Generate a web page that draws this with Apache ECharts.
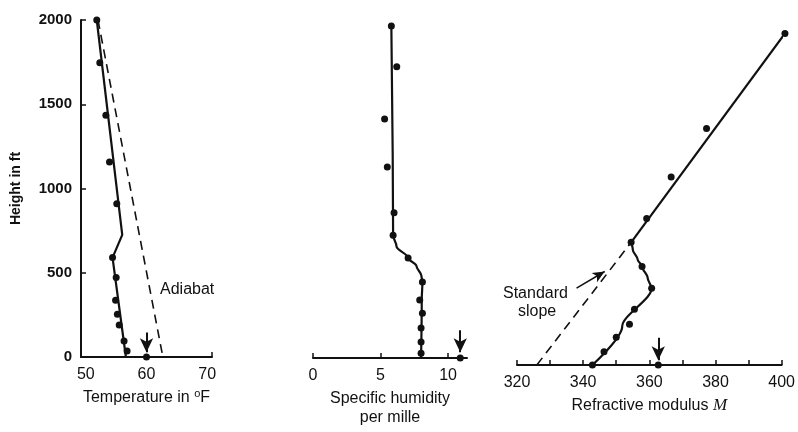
<!DOCTYPE html>
<html><head><meta charset="utf-8">
<script src="https://cdn.jsdelivr.net/npm/echarts@6/dist/echarts.min.js"></script>
<style>html,body{margin:0;padding:0;background:#fff}#c{width:798px;height:432px}</style>
</head><body><div id="c"></div>
<script>
// ---- data ----
const heightTicks = [0, 500, 1000, 1500, 2000];
const tempTicks = [50, 60, 70];
const humidTicks = [0, 5, 10];
const modTicks = [320, 340, 360, 380, 400];
const modMinorTicks = [320, 330, 340, 350, 360, 370, 380, 390, 400];

const tempPoints = [[51.8,2000],[52.3,1746],[53.3,1435],[53.9,1157],[55.1,909],[54.4,591],[55.0,472],[54.9,337],[55.2,254],[55.5,190],[56.3,95],[56.8,36],[60,0]];
const tempLine = [[51.8,2000],[56.0,725],[54.4,590],[56.6,0]];
const adiabat = [[52.0,2000],[62.7,0]];
const tempArrow = [[60,145],[60,28]];

const humidPoints = [[5.8,2000],[6.2,1755],[5.3,1440],[5.5,1150],[6.0,875],[5.93,740],[7.04,603],[8.1,458],[7.9,350],[8.1,270],[8.0,180],[8.0,97],[8.0,28],[10.9,0]];
const humidLine = [[5.8,2000],[5.93,740],[6.18,673],[7.04,603],[7.66,554],[8.03,494],[8.1,458],[8.05,350],[8.0,0]];
const humidArrow = [[10.9,167],[10.9,35]];

const modPoints = [[401,1968],[377.3,1403],[366.6,1115],[359.2,870],[354.5,728],[357.8,585],[360.7,455],[355.5,331],[354,242],[350,165],[346.3,79],[342.8,0],[362.7,0]];
const modUpperLine = [[401,1968],[354.5,728]];
const modLowerLine = [[354.5,728],[355.0,684],[356.5,625],[357.8,585],[359.5,516],[360.7,455],[351.8,228],[342.8,0]];
const standardSlope = [[326,0],[354,715]];
const modArrow = [[362.7,161],[362.7,28]];
const slopeArrow = [[338,456],[346.5,555]];

// ---- chart ----
const FONT = '"Liberation Sans", Arial, sans-serif';
const BLACK = '#111';
const chart = echarts.init(document.getElementById('c'), null, {renderer: 'canvas'});

function xAx(gridIndex, min, max, labels, ticks, nameText, nameGap, rich) {
  return {
    type: 'value', gridIndex, min, max, position: 'bottom',
    splitLine: {show: false},
    axisLine: {show: true, onZero: false, lineStyle: {color: BLACK, width: 2}},
    axisTick: {show: true, inside: true, length: 5, customValues: ticks, lineStyle: {color: BLACK, width: 1.5}},
    axisLabel: {show: true, customValues: labels, color: BLACK, fontFamily: FONT, fontSize: 16, margin: 10, formatter: v => String(v)},
    name: nameText, nameLocation: 'middle', nameGap,
    nameTextStyle: {color: BLACK, fontFamily: FONT, fontSize: 16, lineHeight: 19, rich: rich || {}}
  };
}
function yAx(gridIndex, show) {
  return {
    type: 'value', gridIndex, min: 0, max: 2000, show,
    splitLine: {show: false},
    axisLine: {show: show, lineStyle: {color: BLACK, width: 2}},
    axisTick: {show: show, inside: true, length: 5, customValues: [500,1000,1500,2000], lineStyle: {color: BLACK, width: 1.5}},
    axisLabel: {show: show, customValues: heightTicks, color: BLACK, fontFamily: FONT, fontSize: 15, fontWeight: 'bold', margin: 9, formatter: v => String(v)},
    name: show ? 'Height in ft' : '', nameLocation: 'middle', nameGap: 58, nameRotate: 90,
    nameTextStyle: {color: BLACK, fontFamily: FONT, fontSize: 14, fontWeight: 'bold'}
  };
}
function lineS(xi, data, opts) {
  return Object.assign({
    type: 'line', xAxisIndex: xi, yAxisIndex: xi, data, symbol: 'none', silent: true, clip: false,
    lineStyle: {color: BLACK, width: 2.2}, z: 2
  }, opts || {});
}
function dots(xi, data) {
  return {type: 'scatter', xAxisIndex: xi, yAxisIndex: xi, data, symbol: 'circle', symbolSize: 7, clip: false,
    itemStyle: {color: BLACK, opacity: 1}, z: 5, silent: true};
}
function arrow(xi, pts) {
  return {type: 'line', xAxisIndex: xi, yAxisIndex: xi, data: [], silent: true,
    markLine: {silent: true, symbol: ['none', 'arrow'], symbolSize: [10, 14],
      lineStyle: {color: BLACK, width: 2, type: 'solid'}, label: {show: false},
      data: [[{coord: pts[0]}, {coord: pts[1]}]]}};
}
const sup = {sup: {fontSize: 11, verticalAlign: 'top', color: BLACK, fontFamily: FONT, padding: [0,0,6,0]}};
const mRich = {m: {fontFamily: '"Liberation Serif", serif', fontStyle: 'italic', fontSize: 17, color: BLACK}};

chart.setOption({
  animation: false,
  backgroundColor: '#fff',
  grid: [
    {left: 81, top: 20, width: 131, height: 337},
    {left: 313, top: 26, width: 154, height: 337},
    {left: 517, top: 28, width: 266, height: 337}
  ],
  xAxis: [
    xAx(0, 49.2, 70.8, tempTicks, [70.8], 'Temperature in {sup|o}F', 31, sup),
    xAx(1, 0, 11.4, humidTicks, humidTicks, 'Specific humidity\nper mille', 31),
    xAx(2, 320, 400, modTicks, modMinorTicks, 'Refractive modulus {m|M}', 26, mRich)
  ],
  yAxis: [yAx(0, true), yAx(1, false), yAx(2, false)],
  series: [
    lineS(0, tempLine),
    lineS(0, adiabat, {lineStyle: {color: BLACK, width: 1.6, type: [9, 6]}}),
    dots(0, tempPoints),
    arrow(0, tempArrow),
    lineS(1, humidLine, {smooth: 0.35, smoothMonotone: 'y'}),
    dots(1, humidPoints),
    arrow(1, humidArrow),
    lineS(2, modUpperLine),
    lineS(2, modLowerLine, {smooth: 0.3, smoothMonotone: 'y'}),
    lineS(2, standardSlope, {lineStyle: {color: BLACK, width: 1.6, type: [9, 6]}}),
    dots(2, modPoints),
    arrow(2, modArrow),
    {type: 'line', xAxisIndex: 2, yAxisIndex: 2, data: [], silent: true,
      markLine: {silent: true, symbol: ['none', 'arrow'], symbolSize: [8, 12],
        lineStyle: {color: BLACK, width: 1.5, type: 'solid'}, label: {show: false},
        data: [[{coord: slopeArrow[0]}, {coord: slopeArrow[1]}]]}}
  ],
  graphic: [
    {type: 'text', left: 160, top: 282, style: {text: 'Adiabat', font: '16px ' + FONT, fill: BLACK}},
    {type: 'text', left: 503, top: 286, style: {text: 'Standard', font: '16px ' + FONT, fill: BLACK}},
    {type: 'text', left: 518, top: 304, style: {text: 'slope', font: '16px ' + FONT, fill: BLACK}}
  ]
});
</script></body></html>
